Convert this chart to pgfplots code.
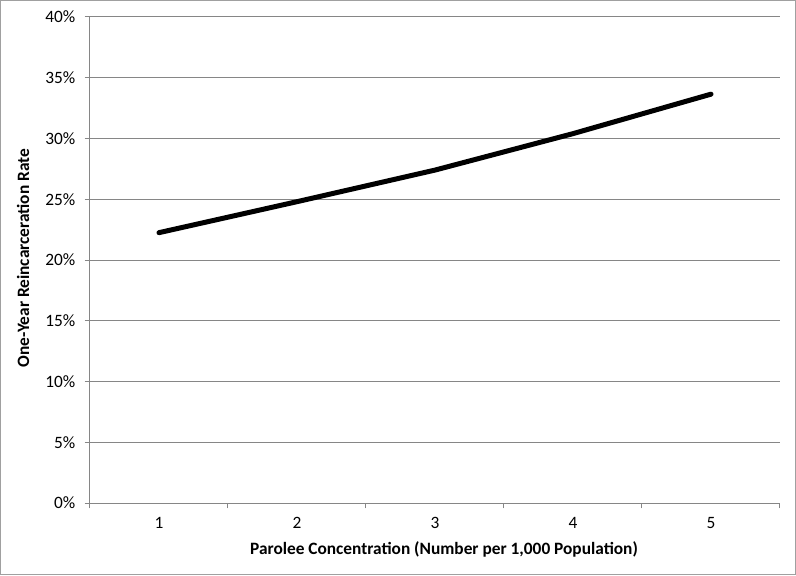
\documentclass[border=0pt]{standalone}
\usepackage{fontspec}
\setmainfont{Carlito}
\usepackage{pgfplots}
\pgfplotsset{compat=1.18}
\definecolor{gridgray}{HTML}{868686}
\definecolor{framegray}{HTML}{A0A0A0}
\begin{document}
\begin{tikzpicture}[x=0.75pt,y=0.75pt]
\draw[line width=0.75pt, framegray] (-89.5,-71.5) rectangle (705.5,502.5);
\begin{axis}[
  at={(0,0)}, anchor=south west,
  scale only axis, width=517.5pt, height=364.5pt,
  xmin=0.5, xmax=5.5, ymin=0, ymax=0.4,
  axis x line*=bottom, axis y line*=left,
  axis line style={gridgray, line width=0.75pt, -},
  xtick={0.5,1.5,2.5,3.5,4.5,5.5},
  x tick label as interval,
  xticklabels={1,2,3,4,5},
  ytick={0,0.05,0.1,0.15,0.2,0.25,0.3,0.35,0.4},
  yticklabels={0\%,5\%,10\%,15\%,20\%,25\%,30\%,35\%,40\%},
  tick align=outside, major tick length=4pt,
  tick style={gridgray, line width=0.75pt},
  ymajorgrids, grid style={gridgray, line width=0.75pt},
  tick label style={font=\fontsize{13}{15}\selectfont, black},
  yticklabel style={xshift=-3.5pt},
  xticklabel style={yshift=-3pt},
  clip=false,
]
\addplot[black, line width=3.75pt, line cap=round, line join=round] coordinates {
  (1,0.2225) (2,0.248) (3,0.274) (4,0.304) (5,0.3365)
};
\end{axis}
\node[font=\fontsize{13}{15}\selectfont\bfseries] at (354,-46) {Parolee Concentration (Number per 1,000 Population)};
\node[rotate=90, font=\fontsize{13}{15}\selectfont\bfseries] at (-67,245) {One-Year Reincarceration Rate};
\end{tikzpicture}
\end{document}
